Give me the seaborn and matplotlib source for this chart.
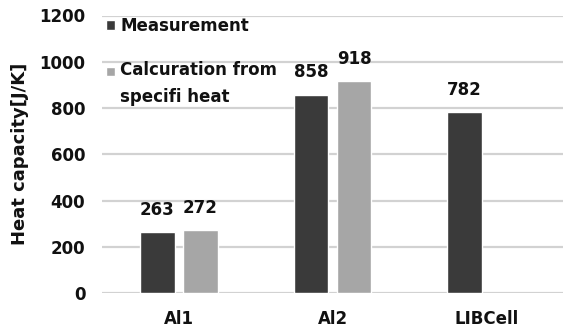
import numpy as np
import pandas as pd
import matplotlib
matplotlib.use("Agg")
import matplotlib.pyplot as plt
from matplotlib.patches import Rectangle
from matplotlib.legend_handler import HandlerPatch
import seaborn as sns

# Data
samples = ["Al1", "Al2", "LIBCell"]
measurement = [263, 858, 782]
calculation = [272, 918, np.nan]
series_names = ["Measurement", "Calcuration from\nspecifi heat"]

df = pd.DataFrame({
    "sample": samples * 2,
    "value": measurement + calculation,
    "series": [series_names[0]] * 3 + [series_names[1]] * 3,
})

sns.set_theme(style="white")
plt.rcParams["font.family"] = ["DejaVu Sans"]
plt.rcParams["font.weight"] = "bold"

FS = 12
TXT = "#111111"

fig = plt.figure(figsize=(5.65, 3.31), dpi=100)
ax = fig.add_axes([102 / 565, 1 - 293 / 331, 461 / 565, (293 - 15.5) / 331])

palette = {series_names[0]: "#3a3a3a", series_names[1]: "#a6a6a6"}
sns.barplot(data=df, x="sample", y="value", hue="series", palette=palette,
            order=samples, hue_order=series_names, width=0.56, gap=0.2,
            saturation=1, ax=ax, legend=True)

for cont in ax.containers:
    labels = ["" if np.isnan(v) else f"{v:.0f}" for v in cont.datavalues]
    ax.bar_label(cont, labels=labels, padding=9.5, fontsize=FS,
                 fontweight="bold", color=TXT)

ax.set_ylim(0, 1200)
ax.set_yticks(range(0, 1201, 200))
ax.set_xlim(-0.5, 2.5)
ax.yaxis.grid(True, color="#d2d2d2", linewidth=1.6)
ax.set_axisbelow(True)
for s in ax.spines.values():
    s.set_visible(False)
ax.tick_params(axis="y", length=0, pad=12, labelsize=FS, colors=TXT)
ax.tick_params(axis="x", length=0, pad=12.5, labelsize=FS, colors=TXT)
for t in ax.get_xticklabels() + ax.get_yticklabels():
    t.set_fontweight("bold")
ax.set_xlabel("")
ax.set_ylabel("Heat capacity[J/K]", fontsize=13, fontweight="bold",
              color=TXT, labelpad=7)


# Legend key for a two-line label sits beside its first line
def first_line_square(legend, orig_handle, xdescent, ydescent, width, height, fontsize):
    return Rectangle((-xdescent, -ydescent + 9.5), width, height)


handles, labels = ax.get_legend_handles_labels()
leg = ax.legend(handles, labels, loc="upper left", bbox_to_anchor=(0.009, 0.996),
                frameon=False, handlelength=0.52, handleheight=0.52,
                handletextpad=0.32, labelspacing=1.6, fontsize=FS,
                borderpad=0, borderaxespad=0,
                handler_map={handles[1]: HandlerPatch(patch_func=first_line_square)})
for t in leg.get_texts():
    t.set_fontweight("bold")
    t.set_color(TXT)
    t.set_linespacing(1.6)

fig.savefig("out.png", dpi=100)
